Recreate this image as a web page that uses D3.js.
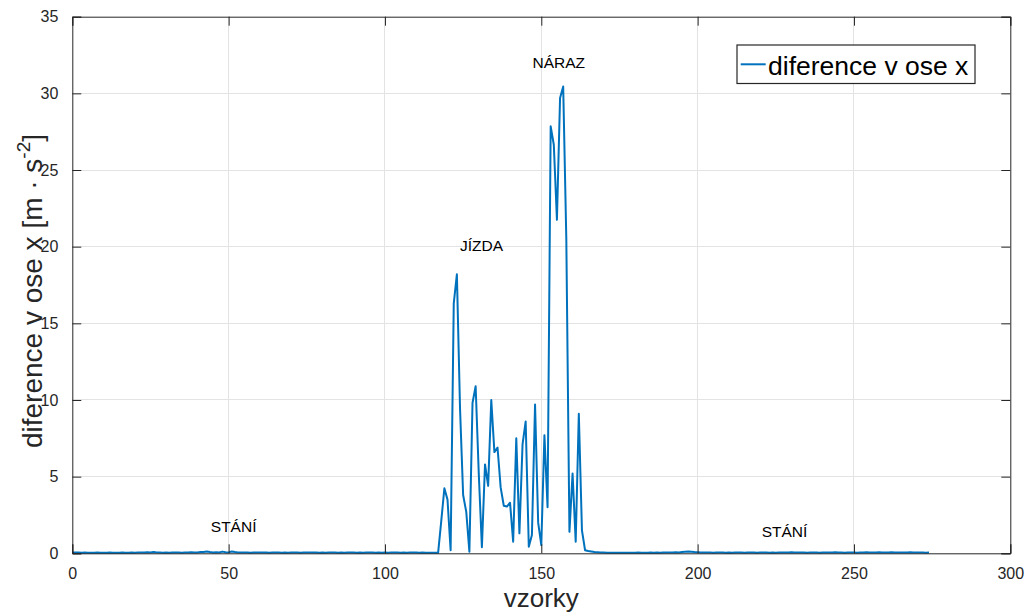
<!DOCTYPE html>
<html>
<head>
<meta charset="utf-8">
<script src="https://cdn.jsdelivr.net/npm/d3@7"></script>
<style>
  html, body { margin: 0; padding: 0; background: #fff; }
  svg { display: block; font-family: "Liberation Sans", Arial, Helvetica, sans-serif; }
</style>
</head>
<body>
<svg id="chart" width="1030" height="616"></svg>
<script>
// ---- data ----
const diffX = [
  0.05,0.06,0.05,0.04,0.05,0.04,0.03,0.04,0.05,0.04,
  0.03,0.04,0.05,0.04,0.03,0.04,0.05,0.04,0.04,0.05,
  0.04,0.05,0.06,0.05,0.07,0.06,0.09,0.06,0.05,0.04,
  0.05,0.04,0.05,0.06,0.05,0.04,0.05,0.06,0.07,0.05,
  0.06,0.08,0.09,0.12,0.08,0.06,0.07,0.05,0.11,0.07,
  0.06,0.12,0.08,0.06,0.05,0.06,0.05,0.04,0.05,0.06,
  0.05,0.06,0.05,0.04,0.05,0.06,0.05,0.04,0.05,0.04,
  0.05,0.06,0.05,0.04,0.05,0.06,0.05,0.06,0.05,0.04,
  0.05,0.04,0.05,0.06,0.05,0.04,0.05,0.04,0.05,0.06,
  0.05,0.04,0.05,0.04,0.05,0.06,0.05,0.04,0.05,0.04,
  0.05,0.04,0.05,0.06,0.05,0.04,0.05,0.04,0.05,0.06,
  0.05,0.04,0.05,0.04,0.03,0.04,0.03,0.03,
  2.1,4.24,3.5,0.2,16.3,18.2,9.5,3.8,2.7,0.1,
  9.8,10.9,5.2,0.4,5.8,4.4,10.0,6.6,6.9,4.3,
  3.1,3.05,3.3,0.76,7.5,1.3,7.1,8.6,0.43,1.2,
  9.7,2.0,0.54,7.7,3.0,27.85,26.65,21.75,29.7,30.45,
  20.5,1.4,5.2,0.76,9.1,1.5,0.2,0.15,0.12,0.08,
  0.07,0.06,0.05,0.04,0.04,0.03,0.04,0.03,0.04,0.03,
  0.04,0.03,0.04,0.05,0.04,0.03,0.04,0.05,0.04,0.05,
  0.04,0.05,0.06,0.05,0.06,0.07,0.06,0.08,0.1,0.12,
  0.1,0.08,0.07,0.06,0.05,0.06,0.05,0.04,0.05,0.06,
  0.05,0.04,0.05,0.04,0.05,0.06,0.05,0.04,0.05,0.06,
  0.05,0.04,0.05,0.06,0.05,0.04,0.05,0.04,0.05,0.06,
  0.05,0.06,0.07,0.06,0.05,0.06,0.05,0.04,0.05,0.06,
  0.05,0.04,0.05,0.06,0.05,0.06,0.07,0.06,0.05,0.04,
  0.05,0.06,0.05,0.04,0.05,0.06,0.07,0.06,0.05,0.06,
  0.07,0.06,0.05,0.06,0.07,0.06,0.05,0.06,0.05,0.06,
  0.07,0.06,0.05,0.06,0.05,0.04,0.05
];
const xTicks = [0, 50, 100, 150, 200, 250, 300];
const yTicks = [0, 5, 10, 15, 20, 25, 30, 35];
const annotations = [
  { text: "STÁNÍ", x: 44.3, y: 1.37 },
  { text: "JÍZDA", x: 124.0, y: 19.7 },
  { text: "NÁRAZ", x: 147.2, y: 31.66 },
  { text: "STÁNÍ", x: 220.5, y: 1.08 }
];
const seriesName = "diference v ose x";
const xLabel = "vzorky";

// ---- layout ----
const L = 72.3, R = 1010.3, T = 16.7, B = 553.3;
const svg = d3.select("#chart");
const x = d3.scaleLinear().domain([0, 300]).range([L, R]);
const y = d3.scaleLinear().domain([0, 35]).range([B, T]);
const axisCol = "#262626";
const lineCol = "#0072BD";

// grid
const grid = svg.append("g");
grid.selectAll(".gx").data(xTicks.slice(1, -1)).enter().append("line")
  .attr("x1", d => x(d)).attr("x2", d => x(d)).attr("y1", T).attr("y2", B)
  .attr("stroke", "#e3e3e3").attr("stroke-width", 1).attr("shape-rendering", "crispEdges");
grid.selectAll(".gy").data(yTicks.slice(1, -1)).enter().append("line")
  .attr("x1", L).attr("x2", R).attr("y1", d => y(d)).attr("y2", d => y(d))
  .attr("stroke", "#e3e3e3").attr("stroke-width", 1).attr("shape-rendering", "crispEdges");

// data line
const line = d3.line().x((d, i) => x(i)).y(d => y(d));
svg.append("path").datum(diffX)
  .attr("d", line).attr("fill", "none").attr("stroke", lineCol)
  .attr("stroke-width", 2).attr("stroke-linejoin", "round");

// axes (inward ticks)
const tickLen = 9;
const xAxisB = d3.axisBottom(x).tickValues(xTicks).tickSize(-tickLen).tickPadding(14).tickFormat(d3.format("d"));
const xAxisT = d3.axisTop(x).tickValues(xTicks).tickSize(-tickLen).tickFormat("");
const yAxisL = d3.axisLeft(y).tickValues(yTicks).tickSize(-tickLen).tickPadding(14).tickFormat(d3.format("d"));
const yAxisR = d3.axisRight(y).tickValues(yTicks).tickSize(-tickLen).tickFormat("");

function style(g) {
  g.select(".domain").attr("stroke", axisCol).attr("stroke-width", 1);
  g.selectAll(".tick line").attr("stroke", axisCol).attr("stroke-width", 1);
  g.selectAll(".tick text").attr("fill", axisCol).style("font-size", "16px")
    .style("font-family", '"Liberation Sans", Arial, sans-serif');
}
svg.append("g").attr("transform", `translate(0,${B})`).call(xAxisB).call(style);
svg.append("g").attr("transform", `translate(0,${T})`).call(xAxisT).call(style);
svg.append("g").attr("transform", `translate(${L},0)`).call(yAxisL).call(style);
svg.append("g").attr("transform", `translate(${R},0)`).call(yAxisR).call(style);

// annotations
svg.selectAll(".ann").data(annotations).enter().append("text")
  .attr("x", d => x(d.x)).attr("y", d => y(d.y))
  .attr("fill", "#000").style("font-size", "15.5px")
  .text(d => d.text);

// axis labels
svg.append("text").attr("x", (L + R) / 2).attr("y", 607)
  .attr("text-anchor", "middle").attr("fill", axisCol).style("font-size", "26px").text(xLabel);

const yl = svg.append("text")
  .attr("transform", "translate(42,291) rotate(-90)")
  .attr("text-anchor", "middle").attr("fill", axisCol).style("font-size", "28px");
yl.append("tspan").text("diference v ose x [m · s");
yl.append("tspan").attr("dy", -12).style("font-size", "19px").text("-2");
yl.append("tspan").attr("dy", 12).text("]");

// legend
const lg = svg.append("g");
lg.append("rect").attr("x", 737).attr("y", 45).attr("width", 238).attr("height", 38.5)
  .attr("fill", "#fff").attr("stroke", axisCol).attr("stroke-width", 1.2);
lg.append("line").attr("x1", 740.7).attr("x2", 765.7).attr("y1", 64.3).attr("y2", 64.3)
  .attr("stroke", lineCol).attr("stroke-width", 2);
lg.append("text").attr("x", 768).attr("y", 75).attr("fill", "#000")
  .style("font-size", "26.5px").text(seriesName);
</script>
</body>
</html>
